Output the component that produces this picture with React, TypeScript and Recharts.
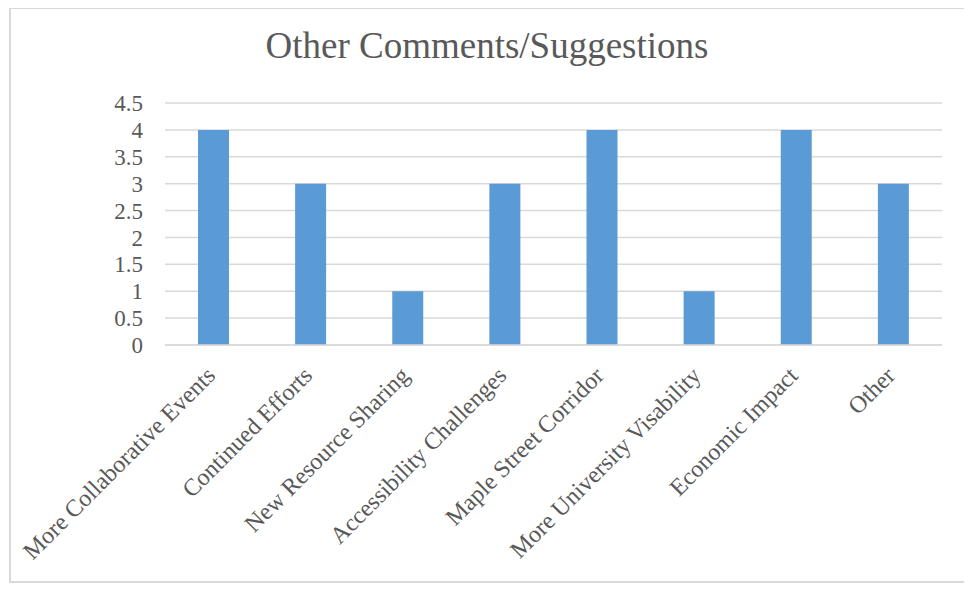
import { BarChart, Bar, XAxis, YAxis, CartesianGrid } from "recharts"

const categories = [
  "More Collaborative Events",
  "Continued Efforts",
  "New Resource Sharing",
  "Accessibility Challenges",
  "Maple Street Corridor",
  "More University Visability",
  "Economic Impact",
  "Other",
]
const counts = [4, 3, 1, 3, 4, 1, 4, 3]
const yTicks = [0, 0.5, 1, 1.5, 2, 2.5, 3, 3.5, 4, 4.5]

const data = categories.map((name, i) => ({ name, count: counts[i] }))

const FONT = "'Liberation Serif', 'Times New Roman', serif"
const TEXT = "#595959"
const GRID = "#d9d9d9"

function SlantTick(props: any) {
  const { x, y, payload } = props
  const ax = x + 3
  const ay = y + 32
  return (
    <text
      x={ax}
      y={ay}
      textAnchor="end"
      transform={`rotate(-45 ${ax} ${ay})`}
      fill={TEXT}
      fontSize={24}
      fontFamily={FONT}
    >
      {payload.value}
    </text>
  )
}

export default function App() {
  return (
    <div style={{ position: "relative", width: 972, height: 592, margin: -8, background: "#fff" }}>
      <div
        style={{
          position: "absolute",
          left: 9,
          top: 7,
          width: 960,
          height: 576,
          border: `2px solid ${GRID}`,
          boxSizing: "border-box",
        }}
      />
      <div
        style={{
          position: "absolute",
          left: 0,
          top: 27,
          width: 974,
          textAlign: "center",
          fontFamily: FONT,
          fontSize: 37,
          lineHeight: 1,
          color: TEXT,
        }}
      >
        Other Comments/Suggestions
      </div>
      <div style={{ position: "absolute", left: 0, top: 0 }}>
        <BarChart width={972} height={592} data={data} margin={{ top: 103, right: 30, bottom: 0, left: 0 }}>
          <CartesianGrid vertical={false} stroke={GRID} strokeWidth={1.5} />
          <XAxis
            dataKey="name"
            interval={0}
            height={247}
            tickLine={false}
            tickSize={0}
            tickMargin={0}
            axisLine={{ stroke: GRID, strokeWidth: 1.5 }}
            tick={<SlantTick />}
          />
          <YAxis
            width={165}
            domain={[0, 4.5]}
            ticks={yTicks}
            interval={0}
            axisLine={false}
            tickLine={false}
            tickSize={0}
            tickMargin={22}
            tick={{ fill: TEXT, fontSize: 23, fontFamily: FONT }}
          />
          <Bar dataKey="count" fill="#5B9BD5" barSize={31} isAnimationActive={false} />
        </BarChart>
      </div>
    </div>
  )
}
